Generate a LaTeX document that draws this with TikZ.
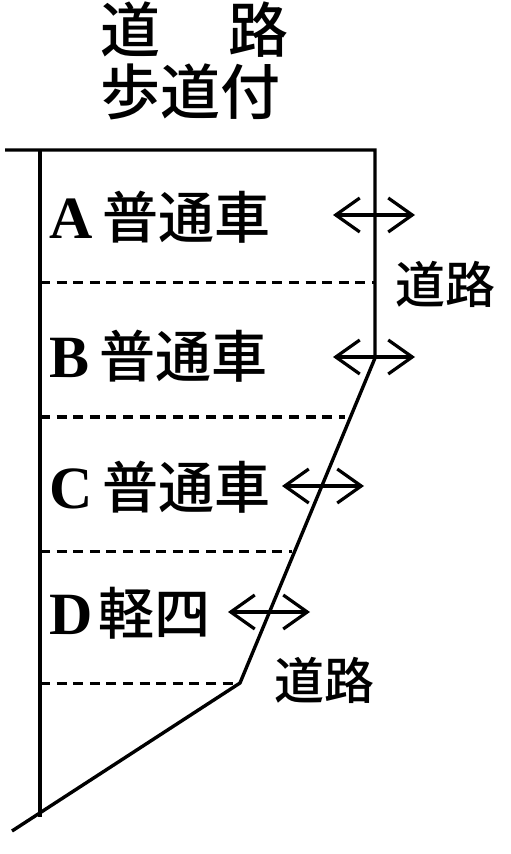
\documentclass[tikz,border=0pt]{standalone}
\usepackage{fontspec}
\setmainfont{Liberation Serif}
\newfontfamily\jp{Noto Sans CJK JP Medium}
\usetikzlibrary{arrows.meta}

\begin{document}
\begin{tikzpicture}[
    x=0.5pt, y=-0.5pt,
    edge/.style={line width=1.7pt},
    lane/.style={line width=1.5pt, dash pattern=on 5pt off 3.3pt},
    way/.style={{Straight Barb[length=12pt,width=17pt]}-{Straight Barb[length=12pt,width=17pt]}, line width=1.6pt},
    lot/.style={anchor=west, inner sep=0pt, font=\fontsize{28}{28}\selectfont},
    road/.style={inner sep=0pt, font=\jp\fontsize{25}{25}\selectfont},
    head/.style={anchor=west, inner sep=0pt, font=\jp\fontsize{30}{30}\selectfont}
]
\useasboundingbox (0,0) rectangle (510,854);

% title
\node[head] (title) at (100,30) {道\hspace{34pt}路};
\node[head] (sub) at (100,92) {歩道付};

% outline of the lot
\coordinate (tl) at (5,150);
\coordinate (lt) at (40,150);
\coordinate (rt) at (375,150);
\coordinate (rb) at (375,358);
\coordinate (kink) at (240,683);
\coordinate (lb) at (40,817);
\coordinate (tail) at (12,831);
\draw[edge] (tl) -- (rt) -- (rb) -- (kink) -- (tail);
\draw[edge] (lt) -- (lb);

% lane borders
\coordinate (d1l) at (40,283);  \coordinate (d1r) at (375,283);
\coordinate (d2l) at (40,417);  \coordinate (d2r) at (345,417);
\coordinate (d3l) at (40,551);  \coordinate (d3r) at (292,551);
\coordinate (d4l) at (40,683);  \coordinate (d4r) at (236,683);
\draw[lane] (d1l) -- (d1r);
\draw[lane] (d2l) -- (d2r);
\draw[lane] (d3l) -- (d3r);
\draw[lane] (d4l) -- (d4r);

% spaces
\node[lot] (a) at (49,217) {{\bfseries\fontsize{30}{30}\selectfont A}\hspace{5pt}{\jp 普通車}};
\node[lot] (b) at (49,356) {{\bfseries\fontsize{30}{30}\selectfont B}\hspace{5pt}{\jp 普通車}};
\node[lot] (c) at (49,487) {{\bfseries\fontsize{30}{30}\selectfont C}\hspace{5pt}{\jp 普通車}};
\node[lot] (d) at (49,613) {{\bfseries\fontsize{30}{30}\selectfont D}\hspace{3pt}{\jp 軽四}};

% access arrows
\coordinate (a1) at (333,215); \coordinate (a2) at (415,215);
\coordinate (b1) at (333,357); \coordinate (b2) at (415,357);
\coordinate (c1) at (282,486); \coordinate (c2) at (364,486);
\coordinate (e1) at (228,612); \coordinate (e2) at (310,612);
\draw[way] (a1) -- (a2);
\draw[way] (b1) -- (b2);
\draw[way] (c1) -- (c2);
\draw[way] (e1) -- (e2);

\node[road] (road1) at (445,284) {道路};
\node[road] (road2) at (324,680) {道路};
\end{tikzpicture}
\end{document}
